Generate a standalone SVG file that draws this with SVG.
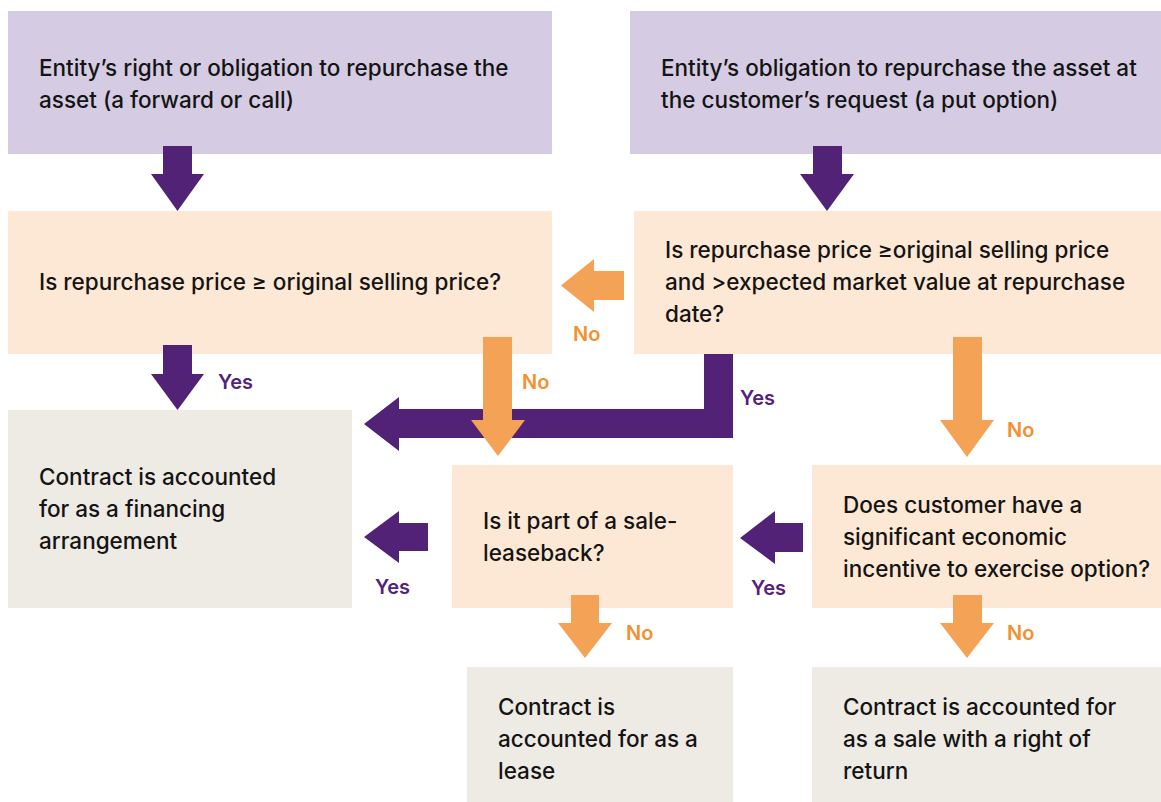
<svg xmlns="http://www.w3.org/2000/svg" width="1161" height="802" viewBox="0 0 1161 802">
<style>
.t{font-family:Inter,"Liberation Sans",Arial,sans-serif;font-size:22.5px;font-weight:500;fill:#141414}
.lb{font-family:Inter,"Liberation Sans",Arial,sans-serif;font-size:20px;font-weight:600}
.no{fill:#F39130}
.yes{fill:#542379}
.pb{fill:#D5CCE4}
.ob{fill:#FDE8D5}
.gb{fill:#EEEBE4}
.pa{fill:#522277}
.oa{fill:#F4A255}
</style>
<rect width="1161" height="802" fill="#FFFFFF"/>
<g id="n1"><rect class="pb" x="8" y="11" width="544" height="143"/>
<text class="t" x="39" y="76">Entity’s right or obligation to repurchase the</text>
<text class="t" x="39" y="108">asset (a forward or call)</text></g>
<g id="n2"><rect class="pb" x="630" y="11" width="531" height="143"/>
<text class="t" x="661" y="76">Entity’s obligation to repurchase the asset at</text>
<text class="t" x="661" y="108">the customer’s request (a put option)</text></g>
<g id="n3"><rect class="ob" x="8" y="211" width="544" height="143"/>
<text class="t" x="39" y="290">Is repurchase price ≥ original selling price?</text></g>
<g id="n4"><rect class="ob" x="634" y="211" width="527" height="143"/>
<text class="t" x="665" y="258">Is repurchase price ≥original selling price</text>
<text class="t" x="665" y="290">and &gt;expected market value at repurchase</text>
<text class="t" x="665" y="322">date?</text></g>
<g id="n5"><rect class="gb" x="8" y="410" width="344" height="198"/>
<text class="t" x="39" y="485">Contract is accounted</text>
<text class="t" x="39" y="517">for as a financing</text>
<text class="t" x="39" y="549">arrangement</text></g>
<g id="n6"><rect class="ob" x="452" y="465" width="281" height="143"/>
<text class="t" x="483" y="529">Is it part of a sale-</text>
<text class="t" x="483" y="561">leaseback?</text></g>
<g id="n7"><rect class="ob" x="812" y="465" width="349" height="143"/>
<text class="t" x="843" y="513">Does customer have a</text>
<text class="t" x="843" y="545">significant economic</text>
<text class="t" x="843" y="577">incentive to exercise option?</text></g>
<g id="n8"><rect class="gb" x="467" y="667" width="266" height="135"/>
<text class="t" x="498" y="715">Contract is</text>
<text class="t" x="498" y="747">accounted for as a</text>
<text class="t" x="498" y="779">lease</text></g>
<g id="n9"><rect class="gb" x="812" y="667" width="349" height="135"/>
<text class="t" x="843" y="715">Contract is accounted for</text>
<text class="t" x="843" y="747">as a sale with a right of</text>
<text class="t" x="843" y="779">return</text></g>
<g id="connectors">
<polygon class="pa" points="163,146 192,146 192,174 204,174 177.5,211 151,174 163,174"/>
<polygon class="pa" points="813,146 842,146 842,174 854,174 827,211 800,174 813,174"/>
<polygon class="oa" points="624,271 624,300 594,300 594,312 561,285.5 594,259 594,271"/>
<polygon class="pa" points="163,345 192,345 192,374 204,374 177.5,410 151,374 163,374"/>
<polygon class="pa" points="704,354 733,354 733,438 399,438 399,451 364,424 399,397 399,409 704,409"/>
<polygon class="oa" points="483,337 512,337 512,420 525,420 498,456 471,420 483,420"/>
<polygon class="oa" points="953,337 982,337 982,420 994,420 967,457 940,420 953,420"/>
<polygon class="pa" points="428,523 428,551 399,551 399,563 364,537 399,511 399,523"/>
<polygon class="pa" points="803,523 803,552 775,552 775,564 740,538 775,511 775,523"/>
<polygon class="oa" points="571,595 599,595 599,623 612,623 585,658 558,623 571,623"/>
<polygon class="oa" points="953,595 982,595 982,623 994,623 967,658 940,623 953,623"/>
<text class="lb no" x="573" y="341">No</text>
<text class="lb yes" x="218" y="389">Yes</text>
<text class="lb no" x="522" y="389">No</text>
<text class="lb yes" x="740" y="405">Yes</text>
<text class="lb no" x="1007" y="437">No</text>
<text class="lb yes" x="375" y="594">Yes</text>
<text class="lb yes" x="751" y="595">Yes</text>
<text class="lb no" x="626" y="640">No</text>
<text class="lb no" x="1007" y="640">No</text>
</g>
</svg>
